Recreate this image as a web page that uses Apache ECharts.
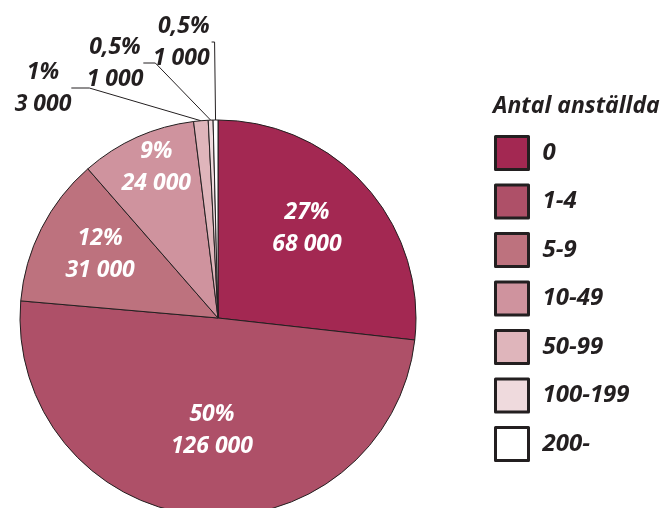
<!DOCTYPE html>
<html>
<head>
<meta charset="utf-8">
<script src="https://cdn.jsdelivr.net/npm/echarts@6/dist/echarts.min.js"></script>
<style>html,body{margin:0;padding:0;background:#fff}#c{width:663px;height:508px}</style>
</head>
<body>
<div id="c"></div>
<script>
var categories = ['0', '1-4', '5-9', '10-49', '50-99', '100-199', '200-'];
var values = [68000, 126000, 31000, 24000, 3000, 1000, 1000];
var percentLabels = ['27%', '50%', '12%', '9%', '1%', '0,5%', '0,5%'];
var legendTitle = 'Antal anställda';

var colors = ['#a32852', '#ae5068', '#bd727e', '#cf939e', '#dfb5bb', '#efdadd', '#ffffff'];
var FONT = '"Open Sans", "DejaVu Sans", sans-serif';
var FS = 23;
// label layout tweaks (offsets for inside labels, positions for outside)
var insideShift = [[13, -22], [4, 11], [-27, -17], [-20, -57]];
var outsidePos = {4: [43, 88], 5: [115, 63]};
var outsideLine = {4: {len2: 18}, 5: {len2: 12}, 6: {len: 78, len2: 3}};

function fmt(v) { return String(v).replace(/\B(?=(\d{3})+(?!\d))/g, ' '); }

var data = categories.map(function (c, i) {
  var item = { name: c, value: values[i], itemStyle: { color: colors[i] } };
  if (outsideLine[i]) {
    item.label = { position: 'outside', color: '#231f20', distanceToLabelLine: 2 };
    item.labelLine = { show: true, length2: outsideLine[i].len2 };
    if (outsideLine[i].len) item.labelLine.length = outsideLine[i].len;
  }
  return item;
});

var chart = echarts.init(document.getElementById('c'), null, { renderer: 'canvas' });
chart.setOption({
  animation: false,
  title: {
    text: legendTitle, left: 493, top: 95, padding: 0,
    textStyle: { fontFamily: FONT, fontSize: FS, fontStyle: 'italic', fontWeight: 'bold', color: '#231f20' }
  },
  legend: {
    orient: 'vertical', left: 494, top: 135, padding: 0,
    itemWidth: 33, itemHeight: 33, itemGap: 12.5,
    icon: 'rect', selectedMode: false,
    data: categories,
    itemStyle: { borderColor: '#231f20', borderWidth: 3 },
    textStyle: { fontFamily: FONT, fontSize: 24, fontStyle: 'italic', fontWeight: 'bold', color: '#231f20', padding: [0, 0, 0, 9] }
  },
  series: [{
    type: 'pie',
    center: [218, 318],
    radius: 198,
    startAngle: 90,
    clockwise: true,
    avoidLabelOverlap: false,
    itemStyle: { borderColor: '#231f20', borderWidth: 1 },
    emphasis: { disabled: true },
    label: {
      show: true, position: 'inside',
      fontFamily: FONT, fontSize: FS, fontStyle: 'italic', fontWeight: 'bold',
      color: '#ffffff', lineHeight: 32, align: 'center',
      formatter: function (p) { return percentLabels[p.dataIndex] + '\n' + fmt(p.value); }
    },
    labelLine: { show: false, lineStyle: { color: '#231f20', width: 1 } },
    labelLayout: function (p) {
      var i = p.dataIndex;
      if (outsidePos[i]) {
        return { x: outsidePos[i][0], y: outsidePos[i][1], align: 'center', verticalAlign: 'middle' };
      }
      if (insideShift[i]) {
        return { dx: insideShift[i][0], dy: insideShift[i][1] };
      }
      return {};
    },
    data: data
  }]
});
</script>
</body>
</html>
